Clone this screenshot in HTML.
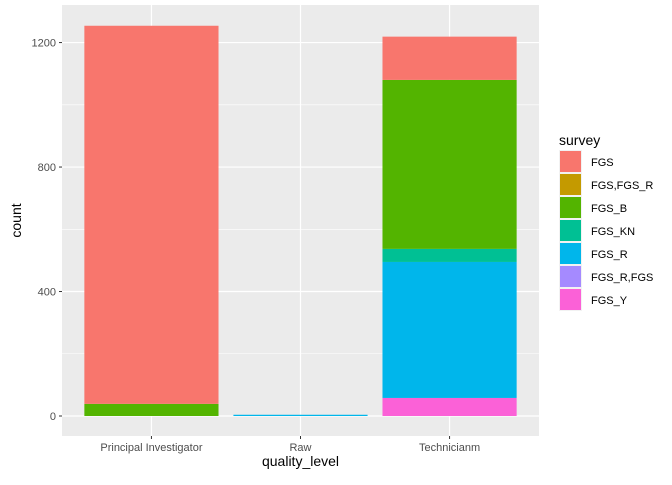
<!DOCTYPE html>
<html><head><meta charset="utf-8"><style>
body{margin:0;background:#fff;font-family:"Liberation Sans",Arial,sans-serif}
svg text{font-family:"Liberation Sans",Arial,sans-serif}
</style></head><body>
<svg id="c" width="672" height="480"></svg>
<script>
const categories=["Principal Investigator","Raw","Technicianm"];
const surveys=["FGS","FGS,FGS_R","FGS_B","FGS_KN","FGS_R","FGS_R,FGS","FGS_Y"];
const colors=["#F8766D","#C49A00","#53B400","#00C094","#00B6EB","#A58AFF","#FB61D7"];
const valsFGS=[1215,0,139];
const valsFGS_FGS_R=[0,0,0];
const valsFGS_B=[39,0,543];
const valsFGS_KN=[0,0,42];
const valsFGS_R=[0,4,437];
const valsFGS_R_FGS=[0,0,0];
const valsFGS_Y=[0,0,58];
const series=[valsFGS,valsFGS_FGS_R,valsFGS_B,valsFGS_KN,valsFGS_R,valsFGS_R_FGS,valsFGS_Y];
const yTicks=[0,400,800,1200];
const NS="http://www.w3.org/2000/svg";
const svg=document.getElementById('c');
function mk(t,a,p){const e=document.createElementNS(NS,t);for(const k in a)e.setAttribute(k,a[k]);(p||svg).appendChild(e);return e;}
const px0=62,px1=539,py0=5,py1=436;
const y=v=>416-v*0.3112;
const step=(px1-px0)/3.2;
const xc=i=>px0+step*(i+0.6);
const bw=step*0.9;
const panel=mk('rect',{x:px0,y:py0,width:px1-px0,height:py1-py0,fill:'#EBEBEB'});


for(let i=0;i<yTicks.length-1;i++){const v=(yTicks[i]+yTicks[i+1])/2;mk('line',{x1:px0,x2:px1,y1:y(v),y2:y(v),stroke:'#fff','stroke-width':0.6});}
yTicks.forEach(v=>{
  const g=mk('line',{x1:px0,x2:px1,y1:y(v),y2:y(v),stroke:'#fff','stroke-width':1.2});
  
  
  mk('line',{x1:px0-3,x2:px0,y1:y(v),y2:y(v),stroke:'#333','stroke-width':1});
  const t=mk('text',{x:px0-6,y:y(v)+4,'text-anchor':'end','font-size':11,fill:'#4D4D4D'});t.textContent=v;
  
  
});
categories.forEach((c,i)=>{
  mk('line',{x1:xc(i),x2:xc(i),y1:py0,y2:py1,stroke:'#fff','stroke-width':1.2});
  mk('line',{x1:xc(i),x2:xc(i),y1:py1,y2:py1+3,stroke:'#333','stroke-width':1});
  const t=mk('text',{x:xc(i),y:py1+15,'text-anchor':'middle','font-size':11,fill:'#4D4D4D'});t.textContent=c;
  
  
});
categories.forEach((c,i)=>{
  let base=0;
  for(let s=series.length-1;s>=0;s--){
    const v=series[s][i];if(!v)continue;
    const r=mk('rect',{x:xc(i)-bw/2,y:y(base+v),width:bw,height:y(base)-y(base+v),fill:colors[s]});
    
    
    base+=v;
  }
});
const xt=mk('text',{x:(px0+px1)/2,y:466,'text-anchor':'middle','font-size':14,fill:'#000'});xt.textContent='quality_level';


const yt=mk('text',{x:0,y:0,transform:`translate(21,${(py0+py1)/2}) rotate(-90)`,'text-anchor':'middle','font-size':14,fill:'#000'});yt.textContent='count';


const lt=mk('text',{x:559,y:145,'font-size':14,fill:'#000'});lt.textContent='survey';


surveys.forEach((s,i)=>{
  const ky=150+i*23;
  mk('rect',{x:559,y:ky,width:23,height:23,fill:'#F2F2F2'});
  const k=mk('rect',{x:560,y:ky+1,width:21,height:21,fill:colors[i]});
  
  
  const t=mk('text',{x:591,y:ky+16,'font-size':11,fill:'#000'});t.textContent=s;
  
  
});
</script>
</body></html>
